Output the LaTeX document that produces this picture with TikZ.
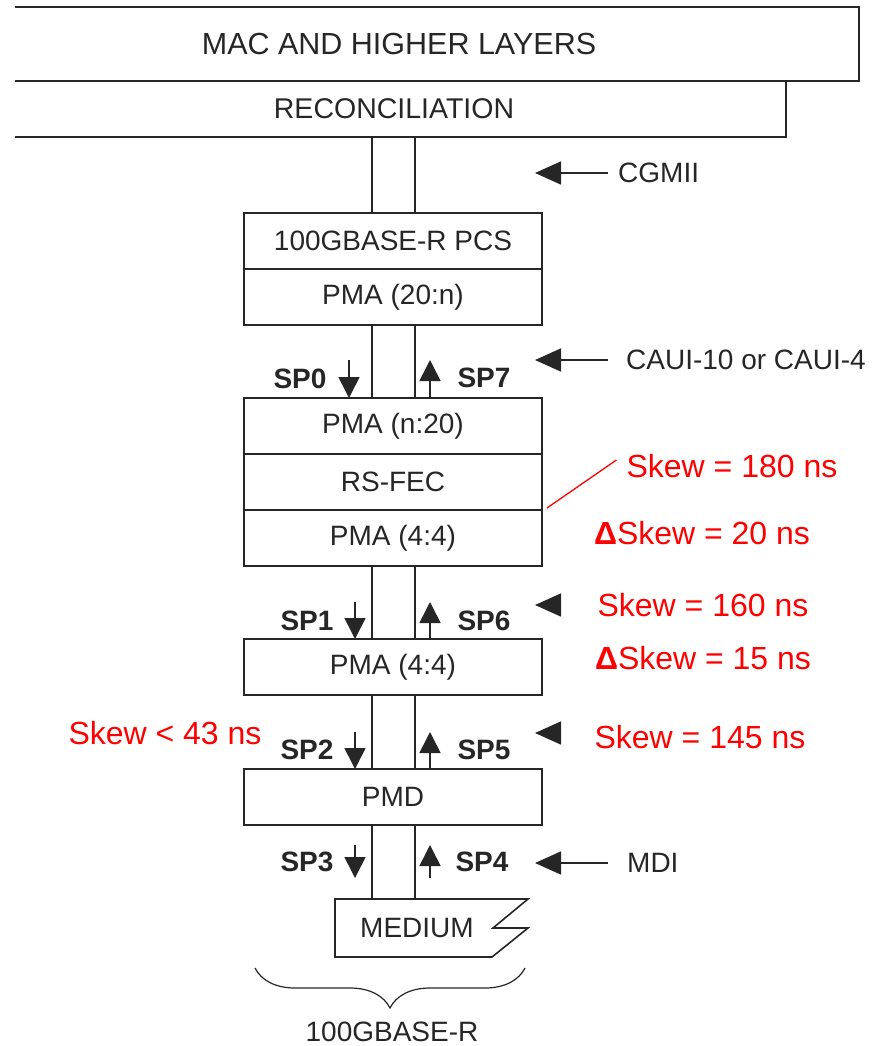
\documentclass[tikz,border=0pt]{standalone}
\usepackage{fontspec}
\setmainfont{Liberation Sans}
\usetikzlibrary{arrows.meta, positioning, decorations.pathreplacing}

\begin{document}
\begin{tikzpicture}[x=1pt, y=-1pt,
  ink/.style={black!85},
  wire/.style={draw=black!85, line width=1.6pt},
  frame/.style={minimum height=56pt, inner sep=0pt, outer sep=0pt},
  layer/.style={frame, wire, minimum width=298pt, text=black!85, font=\fontsize{28}{30}\selectfont},
  sparrow/.style={black!85, line width=1.6pt, -{Triangle[width=21pt,length=21pt]}},
  iface/.style={black!85, line width=1.6pt, -{Triangle[width=23pt,length=26pt]}},
  splabel/.style={text=black!85, inner sep=0pt, font=\bfseries\fontsize{28}{30}\selectfont},
  iflabel/.style={text=black!85, anchor=west, inner sep=0pt, font=\fontsize{28}{30}\selectfont},
  skew/.style={text=red, inner sep=0pt, font=\fontsize{32}{34}\selectfont}]

  \useasboundingbox (0,0) rectangle (891,1046);

  % Upper layers (cut at the left edge)
  \node[frame, minimum width=844pt, minimum height=74pt] (macbox) at (437,44) {};
  \draw[wire] (macbox.north west) -- (macbox.north east) -- (macbox.south east) -- (macbox.south west);
  \node[ink, font=\fontsize{30.5}{32}\selectfont] (mac) at (399,44) {MAC AND HIGHER LAYERS};
  \node[frame, minimum width=771pt] (recbox) at (400.5,109) {};
  \draw[wire] (recbox.north east) -- (recbox.south east) -- (recbox.south west);
  \node[ink, font=\fontsize{28.5}{30}\selectfont] (recon) at (394,109) {RECONCILIATION};

  % Sublayer stack
  \node[layer] (pcs) at (393,241) {100GBASE-R PCS};
  \node[layer, below=0pt of pcs] (pma20n) {PMA (20:n)};
  \node[layer] (pman20) at (393,426) {PMA (n:20)};
  \node[layer, below=0pt of pman20] (rsfec) {RS-FEC};
  \node[layer, below=0pt of rsfec] (pma44a) {PMA (4:4)};
  \node[layer] (pma44b) at (393,667) {PMA (4:4)};
  \node[layer] (pmd) at (393,797) {PMD};

  % Medium
  \coordinate (medtop) at (393,899);
  \draw[wire, line join=miter] (335,899) -- (528,899) -- (493,928) -- (528,928) -- (492,957) -- (335,957) -- cycle;
  \node[ink, font=\fontsize{28}{30}\selectfont] (medium) at (417,928) {MEDIUM};

  % Lane pairs between sublayers
  \coordinate (lx) at (372,0);
  \coordinate (rx) at (415,0);
  \foreach \a/\b in {recbox/pcs, pma20n/pman20, pma44a/pma44b, pma44b/pmd}
    \draw[wire] (\a.south -| lx) -- (\b.north -| lx) (\a.south -| rx) -- (\b.north -| rx);
  \draw[wire] (pmd.south -| lx) -- (medtop -| lx) (pmd.south -| rx) -- (medtop -| rx);

  % Skew points
  \draw[sparrow] ([xshift=-44pt,yshift=38pt]pman20.north) -- ([xshift=-44pt]pman20.north);
  \draw[sparrow] ([xshift=37pt]pman20.north) -- ([xshift=37pt,yshift=38pt]pman20.north);
  \node[splabel] (sp0) at (300,379) {SP0};
  \node[splabel] (sp7) at (484,378) {SP7};
  \draw[sparrow] ([xshift=-38pt,yshift=37pt]pma44b.north) -- ([xshift=-38pt]pma44b.north);
  \draw[sparrow] ([xshift=37pt]pma44b.north) -- ([xshift=37pt,yshift=37pt]pma44b.north);
  \node[splabel] (sp1) at (307,621) {SP1};
  \node[splabel] (sp6) at (484,621) {SP6};
  \draw[sparrow] ([xshift=-38pt,yshift=37pt]pmd.north) -- ([xshift=-38pt]pmd.north);
  \draw[sparrow] ([xshift=37pt]pmd.north) -- ([xshift=37pt,yshift=37pt]pmd.north);
  \node[splabel] (sp2) at (307,750) {SP2};
  \node[splabel] (sp5) at (484,750) {SP5};
  \draw[sparrow] ([xshift=-38pt,yshift=54pt]medtop) -- ([xshift=-38pt,yshift=21pt]medtop);
  \draw[sparrow] ([xshift=37pt,yshift=21pt]medtop) -- ([xshift=37pt,yshift=54pt]medtop);
  \node[splabel] (sp3) at (307,862) {SP3};
  \node[splabel] (sp4) at (482,862) {SP4};

  % Interfaces
  \node[iflabel] (cgmii) at (618,173) {CGMII};
  \draw[iface] ([xshift=-10pt]cgmii.west) -- ++(-73,0);
  \node[iflabel] (caui) at (626,360) {CAUI-10 or CAUI-4};
  \draw[iface] ([xshift=-18pt]caui.west) -- ++(-73,0);
  \node[iflabel] (mdi) at (627,863) {MDI};
  \draw[iface] ([xshift=-19pt]mdi.west) -- ++(-73,0);
  \coordinate (sp6if) at (559,605);
  \coordinate (sp5if) at (559,733);
  \draw[iface] (sp6if) -- ++(-24,0);
  \draw[iface] (sp5if) -- ++(-24,0);

  % Skew budget
  \node[skew] (sk180) at (732,466) {Skew = 180 ns};
  \draw[red, line width=1.3pt] ([xshift=5pt,yshift=2pt]rsfec.south east) -- ([xshift=-10pt,yshift=6pt]sk180.west);
  \node[skew] (dsk20) at (702,533) {\textbf{Δ}Skew = 20 ns};
  \node[skew] (sk160) at (703,605) {Skew = 160 ns};
  \node[skew] (dsk15) at (703,658) {\textbf{Δ}Skew = 15 ns};
  \node[skew] (sk145) at (700,737) {Skew = 145 ns};
  \node[skew] (sk43) at (165,733) {Skew < 43 ns};

  % PHY brace
  \draw[ink, line width=1.2pt, decorate, decoration={brace, mirror, amplitude=40pt}] (255,968) -- (525,968);
  \node[ink, font=\fontsize{28}{30}\selectfont] (phy) at (392,1032) {100GBASE-R};
\end{tikzpicture}
\end{document}
